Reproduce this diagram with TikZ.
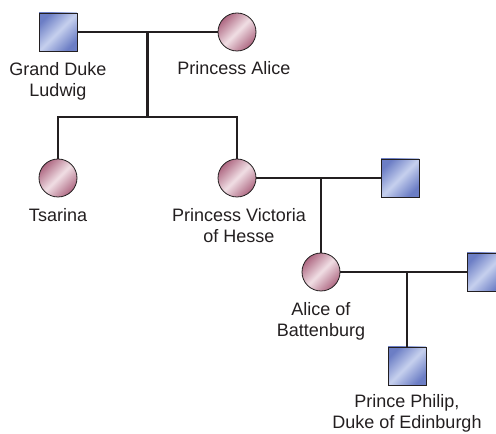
\documentclass[tikz,border=0pt]{standalone}
\usepackage{fontspec}
\setmainfont{Liberation Sans}
\usepackage{tikz}
\usetikzlibrary{positioning,calc}
\definecolor{maledark}{HTML}{6C7EC5}
\definecolor{malelight}{HTML}{C6D0EE}
\definecolor{femdark}{HTML}{AE6882}
\definecolor{femlight}{HTML}{F0DEE4}
\definecolor{ink}{HTML}{231F20}

\begin{document}
\begin{tikzpicture}[x=1pt,y=1pt,node distance=11pt,
  every node/.style={font=\fontsize{18}{21}\selectfont,align=center,text=ink},
  male/.style={rectangle,draw=ink,line width=0.8pt,minimum size=38pt,inner sep=0pt,
    top color=maledark,bottom color=maledark,middle color=malelight,shading angle=45},
  female/.style={circle,draw=ink,line width=0.8pt,minimum size=38pt,inner sep=0pt,
    top color=femdark,bottom color=femdark,middle color=femlight,shading angle=45},
  lbl/.style={inner sep=0pt,anchor=north},
  tie/.style={draw=ink,line width=2.2pt}]
  \clip (0,0) rectangle (496,434);
  % generation 1
  \node[male] (ludwig) at (58,402) {};
  \node[female] (alice) at (237,402) {};
  \node[lbl,below=of ludwig] (ludwigl) {Grand Duke\\Ludwig};
  \node[lbl,below=10pt of alice,xshift=-3pt] (alicel) {Princess Alice};
  % generation 2
  \node[female] (tsarina) at (58,256) {};
  \node[female] (victoria) at (237,256) {};
  \node[male] (louis) at (400,256) {};
  \node[lbl,below=of tsarina] (tsarinal) {Tsarina};
  \node[lbl,below=of victoria,xshift=2pt] (victorial) {Princess Victoria\\of Hesse};
  % generation 3
  \node[female] (aliceb) at (321,162) {};
  \node[male] (andrew) at (486,162) {};
  \node[lbl,below=of aliceb] (alicebl) {Alice of\\Battenburg};
  % generation 4
  \node[male] (philip) at (407,68) {};
  \node[lbl,below=9pt of philip] (philipl) {Prince Philip,\\Duke of Edinburgh};
  % marriages and descent
  \draw[tie] (ludwig.east) -- (alice.west);
  \coordinate (m1) at ($(ludwig.east)!0.5!(alice.west)$);
  \draw[tie] (m1) -- ++(0,-85) coordinate (s1);
  \draw[tie] (tsarina.north) |- (s1) -| (victoria.north);
  \draw[tie] (victoria.east) -- (louis.west);
  \draw[tie] (aliceb.north) -- (aliceb.north |- victoria.east);
  \draw[tie] (aliceb.east) -- (andrew.west);
  \draw[tie] (philip.north) -- (philip.north |- aliceb.east);
\end{tikzpicture}
\end{document}
